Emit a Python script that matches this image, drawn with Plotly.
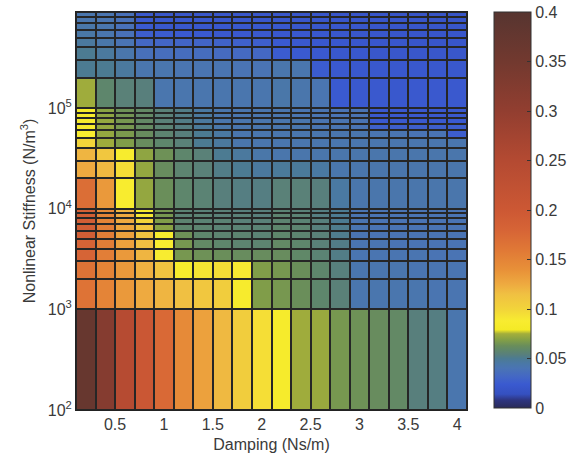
import plotly.graph_objects as go

# Damping cell edges (Ns/m) -> 20 columns centred on 0.2 ... 4.0
damping_edges = [0.1, 0.3, 0.5, 0.7, 0.9, 1.1, 1.3, 1.5, 1.7, 1.9, 2.1,
                 2.3, 2.5, 2.7, 2.9, 3.1, 3.3, 3.5, 3.7, 3.9, 4.1]

# Nonlinear stiffness grid vertices (N/m^3)
stiffness_edges = [1e2,
                   1e3, 2e3, 3e3, 4e3, 5e3, 6e3, 7e3, 8e3, 9e3,
                   1e4, 2e4, 3e4, 4e4, 5e4, 6e4, 7e4, 8e4, 9e4,
                   1e5, 2e5, 3e5, 4e5, 5e5, 6e5, 7e5, 8e5, 9e5]

# Response values, row 0 = lowest stiffness band
response = [
    [0.37, 0.32, 0.245, 0.205, 0.175, 0.145, 0.13, 0.118, 0.105, 0.095, 0.084, 0.074, 0.073, 0.066, 0.064, 0.062, 0.06, 0.054, 0.053, 0.042],
    [0.165, 0.15, 0.135, 0.125, 0.12, 0.115, 0.11, 0.105, 0.085, 0.068, 0.066, 0.063, 0.058, 0.055, 0.042, 0.042, 0.042, 0.042, 0.041, 0.041],
    [0.165, 0.15, 0.135, 0.122, 0.112, 0.085, 0.092, 0.095, 0.09, 0.068, 0.066, 0.063, 0.058, 0.054, 0.042, 0.042, 0.042, 0.041, 0.041, 0.041],
    [0.18, 0.155, 0.135, 0.12, 0.088, 0.066, 0.064, 0.063, 0.062, 0.062, 0.062, 0.059, 0.056, 0.052, 0.041, 0.041, 0.041, 0.041, 0.04, 0.04],
    [0.18, 0.155, 0.13, 0.115, 0.088, 0.066, 0.06, 0.058, 0.057, 0.057, 0.06, 0.058, 0.055, 0.052, 0.041, 0.041, 0.04, 0.04, 0.04, 0.04],
    [0.19, 0.155, 0.13, 0.112, 0.086, 0.064, 0.058, 0.057, 0.057, 0.056, 0.058, 0.057, 0.055, 0.051, 0.041, 0.04, 0.04, 0.04, 0.04, 0.04],
    [0.19, 0.155, 0.128, 0.11, 0.07, 0.058, 0.057, 0.056, 0.056, 0.056, 0.058, 0.057, 0.054, 0.051, 0.041, 0.04, 0.04, 0.04, 0.04, 0.04],
    [0.19, 0.15, 0.125, 0.1, 0.068, 0.057, 0.056, 0.056, 0.055, 0.055, 0.057, 0.056, 0.054, 0.05, 0.041, 0.04, 0.04, 0.04, 0.04, 0.04],
    [0.19, 0.15, 0.125, 0.09, 0.066, 0.056, 0.056, 0.055, 0.055, 0.054, 0.057, 0.056, 0.053, 0.05, 0.041, 0.04, 0.04, 0.04, 0.04, 0.04],
    [0.185, 0.145, 0.12, 0.086, 0.066, 0.056, 0.055, 0.055, 0.054, 0.054, 0.056, 0.055, 0.053, 0.05, 0.041, 0.04, 0.04, 0.04, 0.04, 0.04],
    [0.17, 0.135, 0.087, 0.072, 0.063, 0.058, 0.056, 0.054, 0.053, 0.053, 0.055, 0.055, 0.054, 0.046, 0.043, 0.043, 0.043, 0.043, 0.043, 0.043],
    [0.125, 0.118, 0.095, 0.072, 0.062, 0.057, 0.055, 0.052, 0.05, 0.047, 0.048, 0.048, 0.046, 0.043, 0.043, 0.043, 0.043, 0.043, 0.043, 0.043],
    [0.12, 0.11, 0.086, 0.071, 0.064, 0.058, 0.055, 0.05, 0.047, 0.044, 0.043, 0.043, 0.043, 0.043, 0.043, 0.043, 0.043, 0.043, 0.043, 0.043],
    [0.1, 0.074, 0.068, 0.062, 0.058, 0.055, 0.05, 0.047, 0.043, 0.042, 0.042, 0.042, 0.042, 0.042, 0.042, 0.042, 0.042, 0.042, 0.042, 0.042],
    [0.088, 0.072, 0.067, 0.062, 0.057, 0.054, 0.05, 0.046, 0.042, 0.042, 0.042, 0.042, 0.042, 0.042, 0.042, 0.041, 0.041, 0.04, 0.04, 0.026],
    [0.085, 0.072, 0.066, 0.061, 0.056, 0.053, 0.048, 0.044, 0.042, 0.042, 0.042, 0.042, 0.041, 0.041, 0.04, 0.028, 0.027, 0.027, 0.027, 0.026],
    [0.085, 0.072, 0.066, 0.06, 0.055, 0.052, 0.047, 0.043, 0.042, 0.042, 0.042, 0.042, 0.041, 0.041, 0.04, 0.024, 0.024, 0.024, 0.024, 0.024],
    [0.084, 0.071, 0.065, 0.06, 0.055, 0.052, 0.047, 0.043, 0.042, 0.042, 0.042, 0.041, 0.041, 0.04, 0.04, 0.023, 0.023, 0.023, 0.023, 0.023],
    [0.083, 0.07, 0.064, 0.06, 0.055, 0.052, 0.046, 0.043, 0.042, 0.042, 0.042, 0.041, 0.041, 0.04, 0.04, 0.023, 0.023, 0.023, 0.023, 0.023],
    [0.074, 0.058, 0.055, 0.054, 0.042, 0.042, 0.042, 0.042, 0.042, 0.042, 0.044, 0.043, 0.041, 0.024, 0.023, 0.023, 0.022, 0.023, 0.023, 0.023],
    [0.05, 0.05, 0.047, 0.042, 0.042, 0.041, 0.041, 0.041, 0.04, 0.04, 0.043, 0.042, 0.025, 0.023, 0.022, 0.022, 0.022, 0.022, 0.022, 0.022],
    [0.05, 0.047, 0.043, 0.037, 0.036, 0.035, 0.035, 0.034, 0.033, 0.032, 0.025, 0.024, 0.023, 0.022, 0.022, 0.021, 0.021, 0.021, 0.021, 0.021],
    [0.047, 0.044, 0.04, 0.032, 0.031, 0.03, 0.03, 0.029, 0.028, 0.027, 0.024, 0.023, 0.022, 0.022, 0.021, 0.021, 0.021, 0.02, 0.02, 0.02],
    [0.045, 0.042, 0.038, 0.026, 0.025, 0.024, 0.024, 0.023, 0.023, 0.023, 0.022, 0.022, 0.022, 0.021, 0.021, 0.021, 0.02, 0.02, 0.02, 0.02],
    [0.044, 0.042, 0.038, 0.024, 0.022, 0.022, 0.022, 0.022, 0.022, 0.022, 0.022, 0.021, 0.021, 0.021, 0.021, 0.02, 0.02, 0.02, 0.02, 0.02],
    [0.042, 0.041, 0.038, 0.023, 0.022, 0.022, 0.022, 0.021, 0.021, 0.021, 0.021, 0.021, 0.021, 0.02, 0.02, 0.02, 0.02, 0.02, 0.019, 0.019],
    [0.042, 0.041, 0.037, 0.023, 0.021, 0.021, 0.021, 0.021, 0.021, 0.021, 0.021, 0.02, 0.02, 0.02, 0.02, 0.02, 0.019, 0.019, 0.019, 0.019],
]

x_tick_vals = [0.5, 1, 1.5, 2, 2.5, 3, 3.5, 4]
x_tick_text = ["0.5", "1", "1.5", "2", "2.5", "3", "3.5", "4"]
y_tick_vals = [1e2, 1e3, 1e4, 1e5]
y_tick_text = ["10<sup>2</sup>", "10<sup>3</sup>", "10<sup>4</sup>", "10<sup>5</sup>"]
cbar_tick_vals = [0, 0.05, 0.1, 0.15, 0.2, 0.25, 0.3, 0.35, 0.4]
cbar_tick_text = ["0", "0.05", "0.1", "0.15", "0.2", "0.25", "0.3", "0.35", "0.4"]

ZMAX = 0.4
stops = [
    (0.000, "#2a2b58"), (0.008, "#2e3580"), (0.014, "#3550c0"), (0.024, "#3a5ad0"),
    (0.032, "#4468c4"), (0.040, "#4a74b4"), (0.045, "#4a78a6"), (0.050, "#4c7b92"),
    (0.054, "#587f7c"), (0.058, "#5e866c"), (0.063, "#6a8e5a"), (0.069, "#84a046"),
    (0.075, "#a4ae3a"), (0.079, "#f4ea26"), (0.088, "#f8ec30"), (0.100, "#f2d43a"),
    (0.115, "#f0c042"), (0.125, "#eeaa40"), (0.140, "#e89038"), (0.160, "#e07836"),
    (0.180, "#d66436"), (0.200, "#cc5834"), (0.250, "#b44a32"), (0.300, "#923e30"),
    (0.350, "#72392f"), (0.400, "#573530"),
]
colorscale = [[v / ZMAX, c] for v, c in stops]

font_family = "Liberation Sans, Arial, sans-serif"
text_color = "#3a3a3a"

fig = go.Figure(go.Heatmap(
    x=damping_edges,
    y=stiffness_edges,
    z=response,
    zmin=0, zmax=ZMAX,
    colorscale=colorscale,
    xgap=2, ygap=2,
    colorbar=dict(
        x=1.07, xanchor="left", xpad=0,
        y=1, yanchor="top", ypad=0,
        len=0.995, lenmode="fraction",
        thickness=37, thicknessmode="pixels",
        outlinecolor="#333333", outlinewidth=1,
        tickvals=cbar_tick_vals, ticktext=cbar_tick_text,
        ticks="inside", ticklen=4, tickcolor="#333333",
        tickfont=dict(size=16, color=text_color, family=font_family),
    ),
))

fig.update_layout(
    width=584, height=464,
    margin=dict(l=76, r=108, t=12, b=54),
    paper_bgcolor="white",
    plot_bgcolor="#262626",
    font=dict(family=font_family, size=16, color=text_color),
    xaxis=dict(
        range=[damping_edges[0], damping_edges[-1]],
        tickvals=x_tick_vals, ticktext=x_tick_text,
        showgrid=False, zeroline=False,
        showline=True, mirror=True, linecolor="#222222", linewidth=1,
        ticks="", tickfont=dict(size=16, color=text_color),
        title=dict(text="Damping (Ns/m)", font=dict(size=16, color=text_color), standoff=6),
    ),
    yaxis=dict(
        type="log",
        range=[2, 5.9542425],
        tickvals=y_tick_vals, ticktext=y_tick_text,
        showgrid=False, zeroline=False,
        showline=True, mirror=True, linecolor="#222222", linewidth=1,
        ticks="", tickfont=dict(size=16, color=text_color),
        title=dict(text="Nonlinear Stiffness (N/m<sup>3</sup>)",
                   font=dict(size=16, color=text_color), standoff=8),
    ),
)

fig.write_html("out.html")
